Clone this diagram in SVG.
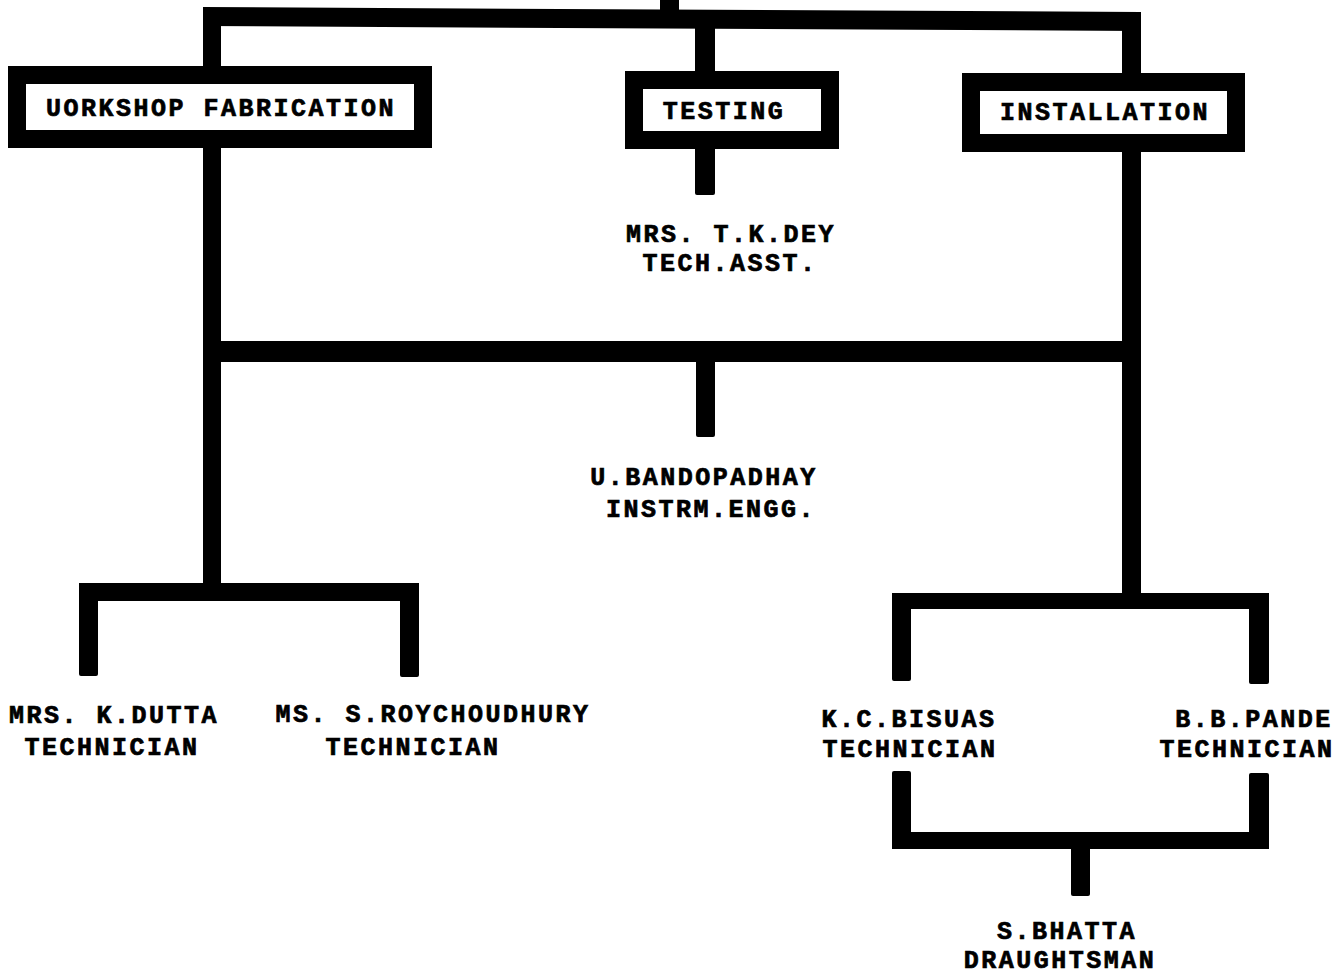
<svg xmlns="http://www.w3.org/2000/svg" width="1337" height="976" viewBox="0 0 1337 976">
<style>
.bg{fill:#ffffff}
.ln{fill:#000000}
.box{fill:#ffffff;stroke:#000000;stroke-width:18}
.t{font-family:"Liberation Mono","Courier New",monospace;font-weight:bold;font-size:25px;letter-spacing:2.5px;fill:#000000;stroke:#000000;stroke-width:0.7px;text-anchor:middle}
</style>
<rect class="bg" x="0" y="0" width="1337" height="976"/>
<g id="connectors">
<rect class="ln" x="660" y="0" width="19" height="12"/>
<polygon class="ln" points="203,7 1141,12 1141,31 203,26"/>
<rect class="ln" x="203" y="9" width="18" height="60"/>
<rect class="ln" x="695" y="26" width="20" height="47"/>
<rect class="ln" x="1122" y="12" width="19" height="63"/>
<rect class="ln" x="695" y="147" width="20" height="48" rx="2"/>
<rect class="ln" x="203" y="145" width="18" height="456"/>
<rect class="ln" x="1122" y="150" width="19" height="459"/>
<rect class="ln" x="203" y="341" width="938" height="21"/>
<rect class="ln" x="696" y="360" width="19" height="77" rx="2"/>
<rect class="ln" x="79" y="583" width="340" height="18"/>
<rect class="ln" x="79" y="583" width="19" height="93" rx="2"/>
<rect class="ln" x="400" y="583" width="19" height="94" rx="2"/>
<rect class="ln" x="892" y="593" width="377" height="16"/>
<rect class="ln" x="892" y="593" width="19" height="88" rx="2"/>
<rect class="ln" x="1249" y="593" width="20" height="91" rx="2"/>
<rect class="ln" x="892" y="771" width="19" height="78" rx="2"/>
<rect class="ln" x="1249" y="773" width="20" height="76" rx="2"/>
<rect class="ln" x="892" y="832" width="377" height="17"/>
<rect class="ln" x="1071" y="847" width="19" height="49" rx="2"/>
</g>
<g id="workshop">
<rect class="box" x="17" y="75" width="406" height="64"/>
<text class="t" x="221" y="116">UORKSHOP FABRICATION</text>
</g>
<g id="testing">
<rect class="box" x="634" y="80" width="196" height="60"/>
<text class="t" x="724" y="119">TESTING</text>
</g>
<g id="installation">
<rect class="box" x="971" y="82" width="265" height="61"/>
<text class="t" x="1105" y="120">INSTALLATION</text>
</g>
<g id="dey">
<text class="t" x="731" y="242">MRS. T.K.DEY</text>
<text class="t" x="730" y="271">TECH.ASST.</text>
</g>
<g id="bandopadhay">
<text class="t" x="704" y="485">U.BANDOPADHAY</text>
<text class="t" x="711" y="517">INSTRM.ENGG.</text>
</g>
<g id="dutta">
<text class="t" x="114" y="723">MRS. K.DUTTA</text>
<text class="t" x="112" y="755">TECHNICIAN</text>
</g>
<g id="roychoudhury">
<text class="t" x="433" y="722">MS. S.ROYCHOUDHURY</text>
<text class="t" x="413" y="755">TECHNICIAN</text>
</g>
<g id="bisuas">
<text class="t" x="909" y="727">K.C.BISUAS</text>
<text class="t" x="910" y="757">TECHNICIAN</text>
</g>
<g id="pande">
<text class="t" x="1254" y="727">B.B.PANDE</text>
<text class="t" x="1247" y="757">TECHNICIAN</text>
</g>
<g id="bhatta">
<text class="t" x="1067" y="939">S.BHATTA</text>
<text class="t" x="1060" y="968">DRAUGHTSMAN</text>
</g>
</svg>
